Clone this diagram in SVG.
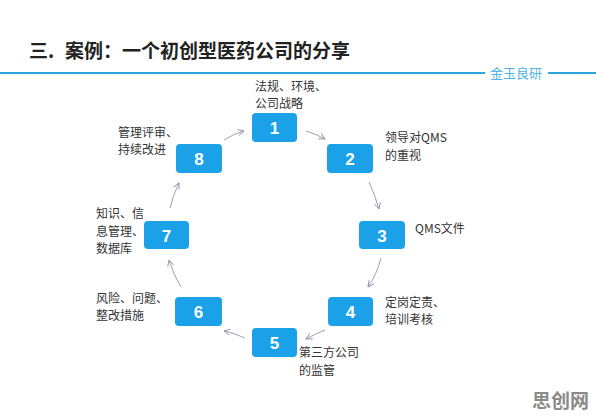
<svg xmlns="http://www.w3.org/2000/svg" width="596" height="419" viewBox="0 0 596 419">
<defs>
<marker id="ah" markerWidth="8" markerHeight="8" refX="7" refY="4" orient="auto" markerUnits="userSpaceOnUse">
<path d="M1,1 L7,4 L1,7" fill="none" stroke="#8c95ad" stroke-width="0.9"/>
</marker>
</defs>
<style>
.box{fill:#1ba1e8;}
.num{font-family:"Liberation Sans",Arial,sans-serif;font-weight:bold;font-size:17px;fill:#ffffff;text-anchor:middle;}
.lbl{font-family:"Noto Sans CJK SC","Liberation Sans",sans-serif;font-size:12px;fill:#333333;}
.conn path{fill:none;stroke:#8c95ad;stroke-width:0.9;marker-end:url(#ah);}
</style>
<rect width="596" height="419" fill="#ffffff"/>
<g id="title">
<text y="58" font-family="Noto Sans CJK SC,Liberation Sans,sans-serif" font-weight="bold" font-size="19" fill="#222222"><tspan x="29">三.</tspan><tspan x="65">案例：一个初创型医药公司的分享</tspan></text>
<line x1="0" y1="73" x2="485" y2="73" stroke="#2aa6df" stroke-width="2"/>
<line x1="548" y1="73" x2="596" y2="73" stroke="#2aa6df" stroke-width="2"/>
<text x="490" y="77.5" font-family="Noto Sans CJK SC,Liberation Sans,sans-serif" font-size="13" fill="#4fb3e6">金玉良研</text>
</g>
<g class="conn" id="connectors">
<path d="M224,140 Q233,134 244,131"/>
<path d="M306,131 Q316,134 325,139"/>
<path d="M369,182 Q375,195 379,209"/>
<path d="M381,258 Q377,274 368,287"/>
<path d="M325,330 Q315,334 306,339"/>
<path d="M245,338 Q234,333 224,331"/>
<path d="M181,287 Q173,274 169,260"/>
<path d="M170,208 Q173,195 179,183"/>
</g>
<g id="n1"><rect class="box" x="252" y="113" width="45" height="29" rx="4"/><text class="num" x="274.5" y="134">1</text>
<text class="lbl"><tspan x="255" y="90.75">法规、环境、</tspan><tspan x="255" y="108.25">公司战略</tspan></text></g>
<g id="n2"><rect class="box" x="327" y="144" width="46" height="29" rx="4"/><text class="num" x="350" y="165">2</text>
<text class="lbl"><tspan x="385" y="142.25">领导对QMS</tspan><tspan x="385" y="159.75">的重视</tspan></text></g>
<g id="n3"><rect class="box" x="359" y="221" width="46" height="28" rx="4"/><text class="num" x="382" y="241.5">3</text>
<text class="lbl" x="415" y="232.5">QMS文件</text></g>
<g id="n4"><rect class="box" x="328" y="297" width="45" height="29" rx="4"/><text class="num" x="350.5" y="318">4</text>
<text class="lbl"><tspan x="385" y="306.75">定岗定责、</tspan><tspan x="385" y="324.25">培训考核</tspan></text></g>
<g id="n5"><rect class="box" x="252" y="328" width="45" height="29" rx="4"/><text class="num" x="274.5" y="349">5</text>
<text class="lbl"><tspan x="299" y="357.25">第三方公司</tspan><tspan x="299" y="374.75">的监管</tspan></text></g>
<g id="n6"><rect class="box" x="175" y="297" width="47" height="29" rx="4"/><text class="num" x="198.5" y="318">6</text>
<text class="lbl"><tspan x="96" y="302.75">风险、问题、</tspan><tspan x="96" y="320.25">整改措施</tspan></text></g>
<g id="n7"><rect class="box" x="144" y="221" width="45" height="28" rx="4"/><text class="num" x="166.5" y="241.5">7</text>
<text class="lbl"><tspan x="96" y="218">知识、信</tspan><tspan x="96" y="235.5">息管理、</tspan><tspan x="96" y="253">数据库</tspan></text></g>
<g id="n8"><rect class="box" x="176" y="144" width="46" height="29" rx="4"/><text class="num" x="199" y="165">8</text>
<text class="lbl"><tspan x="118" y="136.75">管理评审、</tspan><tspan x="118" y="154.25">持续改进</tspan></text></g>
<g id="watermark"><text x="532" y="408" font-family="Noto Sans CJK SC,Liberation Sans,sans-serif" font-weight="bold" font-size="19" fill="#8a8a8a">思创网</text></g>
</svg>
